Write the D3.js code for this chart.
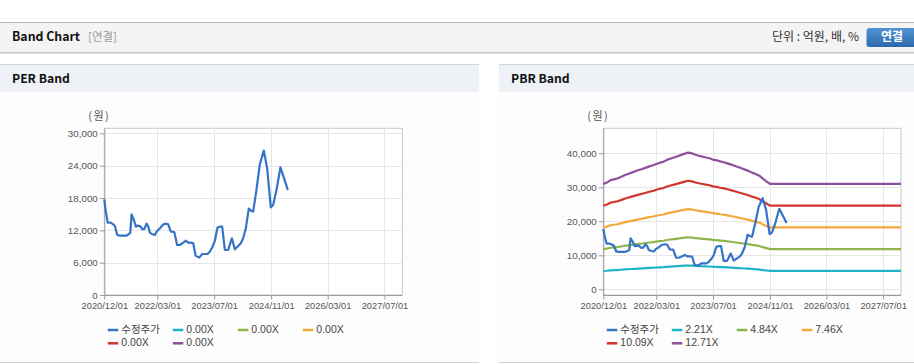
<!DOCTYPE html>
<html>
<head>
<meta charset="utf-8">
<script src="https://cdn.jsdelivr.net/npm/d3@7"></script>
<style>
html,body{margin:0;padding:0;background:#fff;}
svg{display:block;}
</style>
</head>
<body>
<svg id="chart" width="914" height="364"></svg>
<script>
// ---------------- data ----------------
const priceDates = ["2020-12-01","2020-12-12","2020-12-30","2021-01-24","2021-02-16","2021-03-02","2021-03-22","2021-04-14","2021-06-10","2021-06-30","2021-07-12","2021-07-23","2021-08-12","2021-08-29","2021-09-10","2021-10-03","2021-10-25","2021-11-09","2021-11-29","2021-12-13","2021-12-27","2022-01-19","2022-02-08","2022-02-22","2022-03-23","2022-04-21","2022-05-19","2022-06-02","2022-06-25","2022-07-24","2022-08-18","2022-09-10","2022-10-09","2022-11-01","2022-11-21","2022-12-11","2023-01-03","2023-01-23","2023-02-23","2023-03-21","2023-05-05","2023-05-25","2023-06-17","2023-07-07","2023-07-30","2023-08-19","2023-09-08","2023-10-01","2023-10-29","2023-11-30","2023-12-26","2024-01-23","2024-02-15","2024-03-06","2024-03-29","2024-04-23","2024-05-16","2024-05-31","2024-06-28","2024-07-27","2024-08-30","2024-09-28","2024-10-29","2024-11-18","2024-12-17","2025-01-20","2025-03-24"];
const priceValues = [17750,15770,13420,13420,13110,12800,11130,11010,11010,11320,11570,14970,13920,12680,12870,12800,12190,12250,13240,12680,11570,11260,11130,11750,12370,13110,13240,13110,11750,11690,9280,9280,9710,10080,9710,9710,9590,7300,6930,7610,7610,8040,8970,10020,12500,12680,12680,8350,8350,10520,8470,9090,9590,10520,12370,16020,15590,15470,19490,24250,26790,23510,16270,16700,19490,23690,19490];

const bpsDates = ["2020-12-01","2021-01-01","2021-02-01","2021-03-01","2021-04-01","2021-05-01","2021-06-01","2021-07-01","2021-08-01","2021-09-01","2021-10-01","2021-11-01","2021-12-01","2022-01-01","2022-02-01","2022-03-01","2022-04-01","2022-05-01","2022-06-01","2022-07-01","2022-08-01","2022-09-01","2022-10-01","2022-11-01","2022-12-01","2023-01-01","2023-02-01","2023-03-01","2023-04-01","2023-05-01","2023-06-01","2023-07-01","2023-08-01","2023-09-01","2023-10-01","2023-11-01","2023-12-01","2024-01-01","2024-02-01","2024-03-01","2024-04-01","2024-05-01","2024-06-01","2024-07-01","2024-08-01","2024-09-01","2024-10-01","2024-11-01","2027-12-01"];
const bpsValues = [2437,2470,2525,2545,2565,2600,2640,2670,2700,2730,2760,2785,2815,2845,2870,2900,2930,2950,2995,3025,3050,3080,3110,3140,3163,3145,3115,3090,3070,3050,3032,3000,2985,2960,2940,2915,2890,2860,2830,2800,2770,2740,2700,2670,2630,2560,2500,2440,2440];

const perMultiples = [0.00, 0.00, 0.00, 0.00, 0.00];
const pbrMultiples = [2.21, 4.84, 7.46, 10.09, 12.71];
const priceLabel = "수정주가";

const xTickDates = ["2020-12-01","2022-03-01","2023-07-01","2024-11-01","2026-03-01","2027-07-01"];
const xTickLabels = ["2020/12/01","2022/03/01","2023/07/01","2024/11/01","2026/03/01","2027/07/01"];
const xDomain = ["2020-12-01","2027-12-01"];
const perYTicks = [0, 6000, 12000, 18000, 24000, 30000];
const pbrYTicks = [0, 10000, 20000, 30000, 40000];

const priceColor = "#3473c6";
const bandColors = ["#1db4c8", "#8cb54e", "#f2a83a", "#d1352b", "#8e4f9d"];

// ---------------- page chrome ----------------
const svg = d3.select("#chart");
const KR = "'Noto Sans CJK KR','Noto Sans',sans-serif";
const LAT = "'Liberation Sans','Noto Sans CJK KR',Arial,sans-serif";

svg.append("rect").attr("x",0).attr("y",22).attr("width",914).attr("height",1).attr("fill","#b8b8b8");
svg.append("rect").attr("x",0).attr("y",23).attr("width",914).attr("height",29).attr("fill","#f4f4f4");
svg.append("rect").attr("x",0).attr("y",52).attr("width",914).attr("height",1).attr("fill","#c4c4c4");
svg.append("rect").attr("x",0).attr("y",53).attr("width",914).attr("height",1).attr("fill","#e4e4e4");
svg.append("text").attr("x",12).attr("y",38).attr("dominant-baseline","middle")
  .attr("font-family",KR).attr("font-weight","bold").attr("font-size",12.3).attr("fill","#111").text("Band Chart");
svg.append("text").attr("x",88).attr("y",38).attr("dominant-baseline","middle")
  .attr("font-family",KR).attr("font-size",11.5).attr("fill","#999").text("[연결]");
svg.append("text").attr("x",859).attr("y",38).attr("text-anchor","end").attr("dominant-baseline","middle")
  .attr("font-family",KR).attr("font-size",12).attr("fill","#333").text("단위 : 억원, 배, %");
const grad = svg.append("defs").append("linearGradient").attr("id","btn").attr("x1",0).attr("y1",0).attr("x2",0).attr("y2",1);
grad.append("stop").attr("offset","0%").attr("stop-color","#5393d3");
grad.append("stop").attr("offset","100%").attr("stop-color","#2c69ad");
svg.append("rect").attr("x",866.5).attr("y",28).attr("width",52).attr("height",19).attr("rx",3).attr("fill","url(#btn)");
svg.append("text").attr("x",892).attr("y",38).attr("text-anchor","middle").attr("dominant-baseline","middle")
  .attr("font-family",KR).attr("font-weight","bold").attr("font-size",12).attr("fill","#fff").text("연결");

function panel(x0, x1, title) {
  const w = x1 - x0;
  svg.append("rect").attr("x",x0).attr("y",64).attr("width",w).attr("height",1).attr("fill","#d4d4d4");
  svg.append("rect").attr("x",x0).attr("y",65).attr("width",w).attr("height",27).attr("fill","#eef1f6");
  svg.append("rect").attr("x",x0).attr("y",92).attr("width",w).attr("height",270).attr("fill","#fdfdfd");
  svg.append("rect").attr("x",x0).attr("y",362).attr("width",w).attr("height",1).attr("fill","#d4d4d4");
  svg.append("text").attr("x",x0+12).attr("y",80).attr("dominant-baseline","middle")
    .attr("font-family",KR).attr("font-weight","bold").attr("font-size",12.2).attr("fill","#111").text(title);
}
panel(0, 479, "PER Band");
panel(499, 914, "PBR Band");

// ---------------- charts ----------------
const parse = d3.timeParse("%Y-%m-%d");
const priceData = priceDates.map((d,i)=>({date:parse(d), value:priceValues[i]}));
const bpsData = bpsDates.map((d,i)=>({date:parse(d), value:bpsValues[i]}));

function drawChart(cfg) {
  const g = svg.append("g");
  const x = d3.scaleTime().domain(xDomain.map(parse)).range([cfg.left, cfg.right]);
  const y = d3.scaleLinear().domain([0, cfg.yTicks[cfg.yTicks.length-1]]).range([cfg.y0, cfg.yTop]);

  g.append("rect").attr("x",cfg.left).attr("y",cfg.top).attr("width",cfg.right-cfg.left).attr("height",cfg.bottom-cfg.top)
    .attr("fill","#fff").attr("stroke","#c8c8c8").attr("stroke-width",1);

  g.selectAll(".hg").data(cfg.yTicks).join("line")
    .attr("x1",cfg.left).attr("x2",cfg.right)
    .attr("y1",d=>Math.round(y(d))+0.5).attr("y2",d=>Math.round(y(d))+0.5)
    .attr("stroke","#e6e6e6");
  g.selectAll(".vg").data(xTickDates.map(parse)).join("line")
    .attr("x1",d=>Math.round(x(d))+0.5).attr("x2",d=>Math.round(x(d))+0.5)
    .attr("y1",cfg.top).attr("y2",cfg.bottom)
    .attr("stroke","#e6e6e6");

  const yAxis = d3.axisLeft(y).tickValues(cfg.yTicks).tickSize(5).tickPadding(2).tickFormat(d3.format(","));
  const ya = g.append("g").attr("transform",`translate(${cfg.left+0.5},0)`).call(yAxis);
  ya.select(".domain").remove();
  ya.append("line").attr("x1",0).attr("x2",0).attr("y1",cfg.top).attr("y2",cfg.bottom).attr("stroke","#9a9a9a");
  ya.selectAll(".tick line").attr("stroke","#9a9a9a");
  ya.selectAll(".tick text").attr("font-family",LAT).attr("font-size",9.8).attr("fill","#555");

  const xAxis = d3.axisBottom(x).tickValues(xTickDates.map(parse)).tickSize(4).tickPadding(3)
    .tickFormat((d,i)=>xTickLabels[i]);
  const xa = g.append("g").attr("transform",`translate(0,${cfg.bottom+0.5})`).call(xAxis);
  xa.select(".domain").remove();
  xa.append("line").attr("x1",cfg.left).attr("x2",cfg.right).attr("y1",0).attr("y2",0).attr("stroke","#9a9a9a");
  xa.selectAll(".tick line").attr("stroke","#9a9a9a");
  xa.selectAll(".tick text").attr("font-family",LAT).attr("font-size",9.3).attr("fill","#555");

  g.append("text").attr("x",cfg.left-5).attr("y",117).attr("text-anchor","middle").attr("dominant-baseline","middle")
    .attr("font-family",KR).attr("font-size",11).attr("letter-spacing",1.5).attr("fill","#555").text("(원)");

  const line = d3.line().x(d=>x(d.date)).y(d=>y(d.value));

  if (cfg.showBands) {
    cfg.multiples.forEach((m,i)=>{
      const band = bpsData.map(d=>({date:d.date, value:d.value*m}));
      g.append("path").datum(band).attr("d",line).attr("fill","none")
        .attr("stroke",bandColors[i]).attr("stroke-width",2.2).attr("stroke-linejoin","round");
    });
  }
  g.append("path").datum(priceData).attr("d",line).attr("fill","none")
    .attr("stroke",priceColor).attr("stroke-width",2.2).attr("stroke-linejoin","round");

  const items = [{label:priceLabel,color:priceColor}].concat(
    cfg.multiples.map((m,i)=>({label:m.toFixed(2)+"X", color:bandColors[i]})));
  const lg = g.append("g");
  items.forEach((it,i)=>{
    const col = i % 4, row = Math.floor(i/4);
    const lx = cfg.left + 3.5 + col*65;
    const ly = 330 + row*13.3;
    lg.append("line").attr("x1",lx).attr("x2",lx+10.5).attr("y1",ly).attr("y2",ly)
      .attr("stroke",it.color).attr("stroke-width",2.5);
    lg.append("text").attr("x",lx+13.5).attr("y",ly).attr("dominant-baseline","middle")
      .attr("font-family",LAT).attr("font-size",10.5).attr("fill","#444").text(it.label);
  });
}

drawChart({left:104.3, right:402.3, top:128.3, bottom:295, y0:295, yTop:133.3,
  yTicks:perYTicks, multiples:perMultiples, showBands:false});
drawChart({left:603.3, right:901, top:128.3, bottom:295, y0:289.3, yTop:153.3,
  yTicks:pbrYTicks, multiples:pbrMultiples, showBands:true});
</script>
</body>
</html>
